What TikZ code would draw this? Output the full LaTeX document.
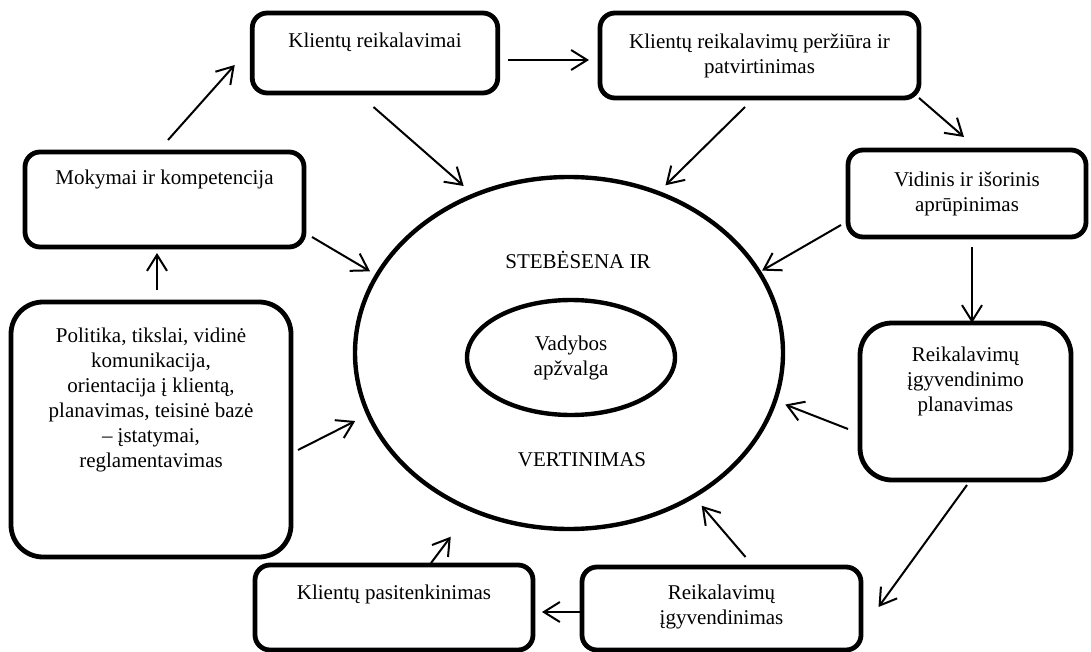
\documentclass[tikz,border=0pt]{standalone}
\usepackage{fontspec}
\setmainfont{Liberation Serif}
\usepackage{tikz}
\usetikzlibrary{shapes.geometric}
\usetikzlibrary{arrows.meta}
\usetikzlibrary{positioning}
\tikzstyle{stage}=[draw, line width=2.4pt, rounded corners=7.5pt, inner sep=0pt, outer sep=0pt]
\tikzstyle{bigstage}=[stage, rounded corners=16pt]
\tikzstyle{ring}=[draw, ellipse, line width=2.2pt, inner sep=0pt, outer sep=0pt]
\tikzstyle{caption}=[align=center, inner sep=0pt]
\tikzstyle{flow}=[line width=1pt, -{Straight Barb[length=8pt, width=10pt]}]

\begin{document}
\begin{tikzpicture}[x=0.5pt, y=-0.5pt, font=\fontsize{10.5pt}{12.5pt}\selectfont]
        \useasboundingbox (0, 0) rectangle (1091, 652);
        \node[stage, minimum width=122.75pt, minimum height=40pt]   (KR)  at (375, 53) {};
        \node[stage, minimum width=159.5pt, minimum height=42.5pt]  (KRP) at (759.5, 55.5) {};
        \node[stage, minimum width=139.5pt, minimum height=47.5pt]  (MK)  at (164.5, 199.5) {};
        \node[stage, minimum width=119pt, minimum height=43.5pt]    (VIA) at (967, 193.5) {};
        \node[bigstage, minimum width=105.5pt, minimum height=78.5pt] (RIP) at (965.5, 401.5) {};
        \node[bigstage, minimum width=140pt, minimum height=127.5pt]  (PT)  at (151, 429.5) {};
        \node[stage, minimum width=139pt, minimum height=42.5pt]    (KP)  at (394, 607.5) {};
        \node[stage, minimum width=139.5pt, minimum height=41.5pt]  (RI)  at (721.5, 608.5) {};
        \node[caption, below=10pt of KR.north]   (KR-t)  {Klientų reikalavimai};
        \node[caption, below=10pt of KRP.north]  (KRP-t) {Klientų reikalavimų peržiūra ir\\patvirtinimas};
        \node[caption, below=9pt of MK.north]    (MK-t)  {Mokymai ir kompetencija};
        \node[caption, below=10.5pt of VIA.north] (VIA-t) {Vidinis ir išorinis\\aprūpinimas};
        \node[caption, below=12pt of RIP.north]  (RIP-t) {Reikalavimų\\įgyvendinimo\\planavimas};
        \node[caption, below=13pt of PT.north]   (PT-t)  {Politika, tikslai, vidinė\\komunikacija,\\orientacija į klientą,\\planavimas, teisinė bazė\\– įstatymai,\\reglamentavimas};
        \node[caption, below=10pt of KP.north]   (KP-t)  {Klientų pasitenkinimas};
        \node[caption, below=9pt of RI.north]    (RI-t)  {Reikalavimų\\įgyvendinimas};
        \node[ring, minimum width=214pt, minimum height=176pt] (SV) at (569, 353) {};
        \node[ring, minimum width=104pt, minimum height=57.5pt, align=center] (VA) at (571, 357.5) {Vadybos\\apžvalga};
        \node[caption] (SV-t1) at (578, 260) {STEBĖSENA IR};
        \node[caption] (SV-t2) at (582, 460) {VERTINIMAS};
        \draw[flow] ([xshift=1.75pt, yshift=6pt]MK.north) -- ([xshift=-8.75pt, yshift=-6pt]KR.west);
        \draw[flow] ([xshift=5.3pt, yshift=-3.5pt]KR.east) -- ([xshift=-5.5pt, yshift=-2.25pt]KRP.west);
        \draw[flow] (KRP.south east) -- ([xshift=-1.5pt, yshift=6.5pt]VIA.north);
        \draw[flow] ([xshift=2.5pt, yshift=-5pt]VIA.south) -- ([xshift=3.25pt]RIP.north);
        \draw[flow] ([xshift=0.75pt, yshift=-2.5pt]RIP.south) -- ([xshift=8.75pt, yshift=0.75pt]RI.east);
        \draw[flow] ([yshift=-1.75pt]RI.west) -- ([xshift=4.5pt, yshift=-2.25pt]KP.east);
        \draw[flow] ([xshift=3pt, yshift=6pt]PT.north) -- ([xshift=-3.75pt, yshift=-3pt]MK.south);
        \draw[flow, shorten >=7pt] ([xshift=-0.75pt, yshift=-7pt]KR.south) -- (SV.121);
        \draw[flow, shorten >=5.4pt] ([xshift=-7.25pt, yshift=-4.5pt]KRP.south) -- (SV.61);
        \draw[flow, shorten >=4pt] ([xshift=4pt, yshift=5pt]MK.south east) -- (SV.158);
        \draw[flow, shorten >=1.7pt] ([xshift=-3.5pt, yshift=6pt]VIA.south west) -- (SV.23);
        \draw[flow, shorten >=5.5pt] ([xshift=-6pt, yshift=-13.75pt]RIP.west) -- (SV.347);
        \draw[flow, shorten >=6.3pt] ([xshift=12pt, yshift=5pt]RI.north) -- (SV.311);
        \draw[flow, shorten >=17pt] ([xshift=18.5pt, yshift=1pt]KP.north) -- (SV.238);
        \draw[flow, shorten >=7.4pt] ([xshift=3.5pt, yshift=-10.25pt]PT.east) -- (SV.197);
    \end{tikzpicture}
\end{document}
